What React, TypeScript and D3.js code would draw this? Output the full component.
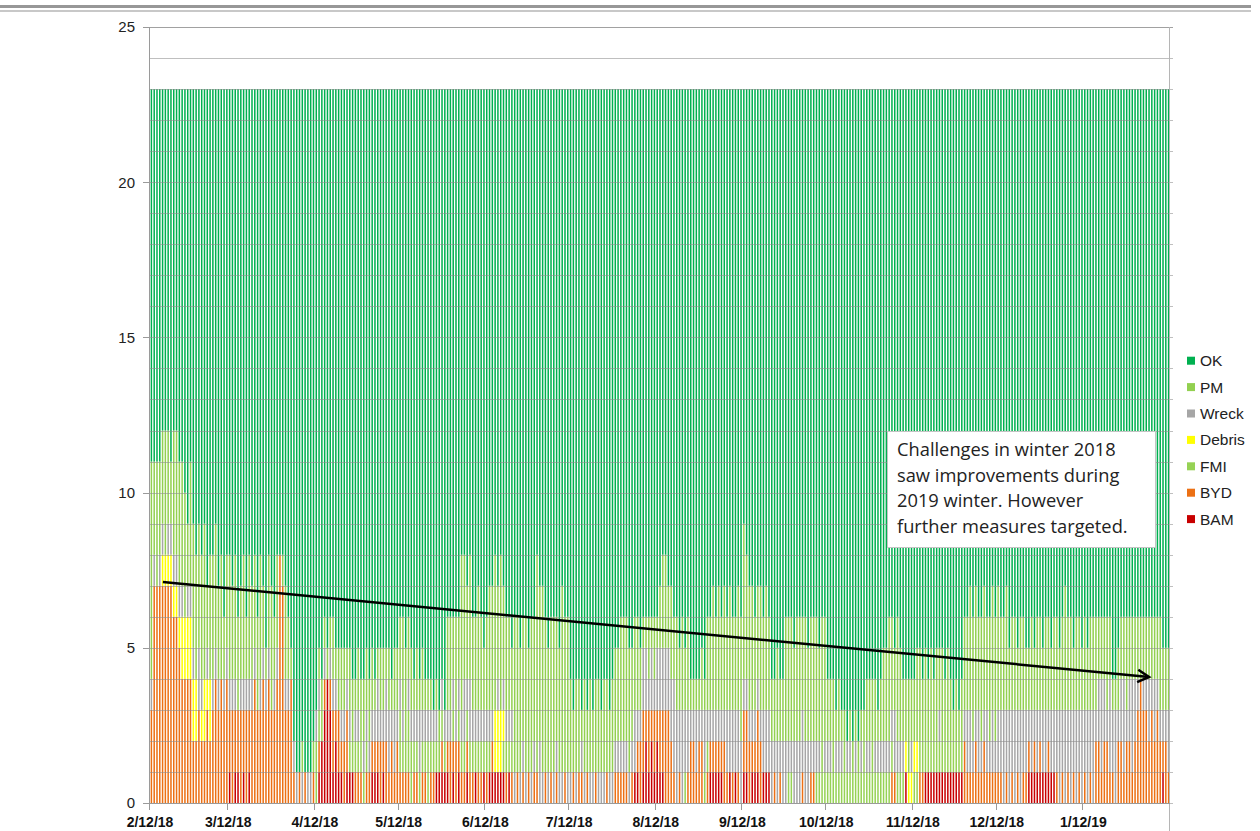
import React, { useEffect, useRef } from "react";
import * as d3 from "d3";

// one bar per day, 2/12/18 .. 2/11/19, every bar stacks to 23
const keys = ["BAM", "BYD", "FMI", "Debris", "Wreck", "PM", "OK"];
const legendKeys = ["OK", "PM", "Wreck", "Debris", "FMI", "BYD", "BAM"];
const colors: Record<string, string> = {
  OK: "#00B050",
  PM: "#92D050",
  Wreck: "#A6A6A6",
  Debris: "#FFFF00",
  FMI: "#96D255",
  BYD: "#EC7014",
  BAM: "#C80000",
};
const TOTAL = 23;
const startDate = new Date(2018, 1, 12);
const monthLengths = [28, 31, 30, 31, 30, 31, 31, 30, 31, 30, 31, 31];
const tickLabels = ["2/12/18", "3/12/18", "4/12/18", "5/12/18", "6/12/18", "7/12/18",
  "8/12/18", "9/12/18", "10/12/18", "11/12/18", "12/12/18", "1/12/19"];
const yTicks = [0, 5, 10, 15, 20, 25];

// daily counts, one string per month (spaces only for readability, missing tail = 0)
const bam = [
  "",
  "10110101",
  "0123431211 0111000000 1110100000",
  "0000000000 0001111101 01001001001",
  "0111111010",
  "0000000000 0000000000 000 11012121",
  "2110000000 0000000001 11110010100",
  "1101110111",
  "0000000000 0000000000 00000000 100",
  "0000 11111111111111",
  "0000000000 0 1111111111",
  "0000000000 0000000000 00000000 100",
];
const byd = [
  "37777777 66544442 23223234 3434",
  "23223232 343343433 487 334 10101001",
  "0101012121 2200111011 1112121212",
  "1111011011 0110010121 21111110110",
  "1010000101 0101010110 0101010010",
  "0101101001 0001001111 10101221212",
  "1223321010 0122122011 11112101010",
  "2221122000 0101000000 0100110000",
  "0000000000 0000000000 00011",
  "0011 00000000000000 211121121111",
  "1101010101 1101010010 01010101010",
  "1010221221 1022122123 43323232121",
];
const fmi = [
  "",
  "",
  "211 000000000 1111111",
  "2122211111 2111111001 01111111111",
  "1100001111",
  "",
  "0000000000 1000000110",
  "0000000000 0000001100 0000001111",
  "1121112111 1112112111 11110111000",
  "1111111111 11111111",
  "",
  "",
];
const debris = [
  "0000 111111 1 222222 0 1 2 1 2",
  "",
  "",
  "",
  "0002221",
  "",
  "",
  "",
  "0000000000 0000000000 00000000 111",
  "11",
  "",
  "",
];
const wreck = [
  "1101101 1111101 1102101 0111011",
  "11101111 110111101 100 110 11010110",
  "1101011101 1110110111 1121122121",
  "1101111211 1111011111 11121211111",
  "1110101111 1011101102 1010111101",
  "1010110110 1110111111 11121122121",
  "2222223323 2211211211 11111222222",
  "1111111222 2121221122 2222111101",
  "1101110110 1010110111 11112111001",
  "000000000 1 00000000 122112112121",
  "2232323232 2121212212 22323232323",
  "2323123213 2312312321 01121211112",
];
const pm = [
  "7343343 2444442 4444452 4443423",
  "43433424 333421342 301 321 00010001",
  "0111112122 2122122222 2112212122",
  "2322212121 1101100332 32543433432",
  "3445353332 5544545475 6545544655",
  "3233132323 3233233344 44333211212",
  "1233232323 2311112133 43434343344",
  "5444334343 2232244434 4343444354",
  "2221211011 1111222212 33432432232",
  "233232323232321212 334443443444",
  "4334233233 2232332332 33234332332",
  "3233322232 1122232222 22222223222",
];

const note = ["Challenges in winter 2018", "saw improvements during",
  "2019 winter. However", "further measures targeted."];
// trend arrow: [day index, value]
const trendFrom = [4.6, 7.12];
const trendTo = [357.5, 4.06];

const buildDays = () => {
  const series: Record<string, string[]> = { BAM: bam, BYD: byd, FMI: fmi, Debris: debris, Wreck: wreck, PM: pm };
  const rows: any[] = [];
  monthLengths.forEach((len, m) => {
    const parsed: Record<string, string> = {};
    Object.keys(series).forEach((k) => {
      parsed[k] = series[k][m].replace(/\s/g, "").padEnd(len, "0");
    });
    for (let i = 0; i < len; i++) {
      const row: any = { day: rows.length };
      let sum = 0;
      Object.keys(series).forEach((k) => {
        row[k] = +parsed[k][i] || 0;
        sum += row[k];
      });
      row.OK = TOTAL - sum;
      rows.push(row);
    }
  });
  return rows;
};

const App = () => {
  const svgRef = useRef<SVGSVGElement>(null);

  useEffect(() => {
    const data = buildDays();
    const left = 150, right = 1170, top = 27, bottom = 803;

    const svg = d3.select(svgRef.current);
    svg.selectAll("*").remove();

    // picture frame at the top
    svg.append("rect").attr("x", 0).attr("y", 5).attr("width", 1251).attr("height", 3).attr("fill", "#979797");
    svg.append("rect").attr("x", 0).attr("y", 10).attr("width", 1251).attr("height", 2).attr("fill", "#c8c8c8");

    const x = d3.scaleBand<number>()
      .domain(data.map((d) => d.day))
      .range([left, right])
      .paddingInner(0.46)
      .paddingOuter(0.23);
    const xDay = d3.scaleLinear().domain([0, data.length]).range([left, right]);
    const xTime = d3.scaleTime()
      .domain([startDate, d3.timeDay.offset(startDate, data.length)])
      .range([left, right]);
    const y = d3.scaleLinear().domain([0, 25]).range([bottom, top]);

    const stacked = d3.stack().keys(keys)(data);

    const bars = svg.append("g").classed("bars", true);
    bars.selectAll("g")
      .data(stacked)
      .join("g")
      .attr("fill", (s) => colors[s.key])
      .selectAll("rect")
      .data((s) => s.filter((d) => d[1] > d[0]))
      .join("rect")
      .attr("x", (d: any) => x(d.data.day) as number)
      .attr("width", x.bandwidth())
      .attr("y", (d) => y(d[1]))
      .attr("height", (d) => y(d[0]) - y(d[1]));

    // gridlines every unit, drawn over the bars
    svg.append("g")
      .selectAll("line")
      .data(d3.range(0, 26))
      .join("line")
      .attr("x1", left - 1)
      .attr("x2", right + 3)
      .attr("y1", (d) => Math.round(y(d)) + 0.5)
      .attr("y2", (d) => Math.round(y(d)) + 0.5)
      .attr("stroke", "#8a8a8a")
      .attr("stroke-opacity", (d) => (d === 25 ? 0.8 : 0.55));

    // y axis
    const yAxis = svg.append("g").attr("font-family", "Liberation Sans, Arial, sans-serif");
    yAxis.append("line")
      .attr("x1", left - 0.5).attr("x2", left - 0.5)
      .attr("y1", top).attr("y2", bottom)
      .attr("stroke", "#9a9a9a");
    yAxis.selectAll("line.tick")
      .data(yTicks)
      .join("line")
      .classed("tick", true)
      .attr("x1", left - 7).attr("x2", left)
      .attr("y1", (d) => Math.round(y(d)) + 0.5)
      .attr("y2", (d) => Math.round(y(d)) + 0.5)
      .attr("stroke", "#9a9a9a");
    yAxis.selectAll("text")
      .data(yTicks)
      .join("text")
      .attr("x", 135)
      .attr("y", (d) => y(d))
      .attr("dy", "0.36em")
      .attr("text-anchor", "end")
      .attr("font-size", 15)
      .attr("fill", "#222")
      .text((d) => d);

    // right edge
    svg.append("line")
      .attr("x1", right - 0.5).attr("x2", right - 0.5)
      .attr("y1", top).attr("y2", 831)
      .attr("stroke", "#b5b5b5");

    // x axis
    const xAxis = svg.append("g").attr("font-family", "Liberation Sans, Arial, sans-serif");
    xAxis.append("line")
      .attr("x1", left - 1).attr("x2", right)
      .attr("y1", bottom + 0.5).attr("y2", bottom + 0.5)
      .attr("stroke", "#9a9a9a");
    const tickDates = tickLabels.map((_, i) => d3.timeMonth.offset(startDate, i));
    xAxis.selectAll("line.tick")
      .data(tickDates)
      .join("line")
      .classed("tick", true)
      .attr("x1", (d) => Math.round(xTime(d)) - 0.5)
      .attr("x2", (d) => Math.round(xTime(d)) - 0.5)
      .attr("y1", bottom)
      .attr("y2", bottom + 7)
      .attr("stroke", "#9a9a9a");
    xAxis.selectAll("text")
      .data(tickDates)
      .join("text")
      .attr("x", (d) => xTime(d))
      .attr("y", 827)
      .attr("text-anchor", "middle")
      .attr("font-size", 14)
      .attr("font-weight", "bold")
      .attr("fill", "#111")
      .text((_, i) => tickLabels[i]);

    // legend
    const legend = svg.append("g").attr("font-family", "Liberation Sans, Arial, sans-serif");
    const item = legend.selectAll("g")
      .data(legendKeys)
      .join("g")
      .attr("transform", (_, i) => `translate(1187, ${360.7 + i * 26.4})`);
    item.append("rect")
      .attr("x", 0).attr("y", -4)
      .attr("width", 8).attr("height", 8)
      .attr("fill", (d) => colors[d]);
    item.append("text")
      .attr("x", 13)
      .attr("dy", "0.36em")
      .attr("font-size", 15.5)
      .attr("fill", "#222")
      .text((d) => d);

    // trend arrow
    const x0 = xDay(trendFrom[0]), y0 = y(trendFrom[1]);
    const x1 = xDay(trendTo[0]), y1 = y(trendTo[1]);
    const ang = Math.atan2(y1 - y0, x1 - x0);
    const head = 13;
    svg.append("line")
      .attr("x1", x0).attr("y1", y0).attr("x2", x1).attr("y2", y1)
      .attr("stroke", "#000").attr("stroke-width", 2.5);
    svg.append("path")
      .attr("d", d3.line()([
        [x1 - head * Math.cos(ang - 0.5), y1 - head * Math.sin(ang - 0.5)],
        [x1, y1],
        [x1 - head * Math.cos(ang + 0.5), y1 - head * Math.sin(ang + 0.5)],
      ]))
      .attr("fill", "none")
      .attr("stroke", "#000")
      .attr("stroke-width", 2.5);

    // note box
    const box = svg.append("g").attr("transform", "translate(887, 431)");
    box.append("rect")
      .attr("x", 0.5).attr("y", 0.5)
      .attr("width", 268).attr("height", 116)
      .attr("fill", "#fff")
      .attr("stroke", "#c4c4c4");
    box.selectAll("text")
      .data(note)
      .join("text")
      .attr("x", 10)
      .attr("y", (_, i) => 25 + i * 25.5)
      .attr("font-family", "Open Sans, Liberation Sans, sans-serif")
      .attr("font-size", 18.3)
      .attr("fill", "#222")
      .text((d) => d);
  }, []);

  return (
    <div style={{ position: "absolute", left: 0, top: 0, background: "#fff" }}>
      <svg ref={svgRef} width={1260} height={831} style={{ display: "block" }} />
    </div>
  );
};

export default App;
